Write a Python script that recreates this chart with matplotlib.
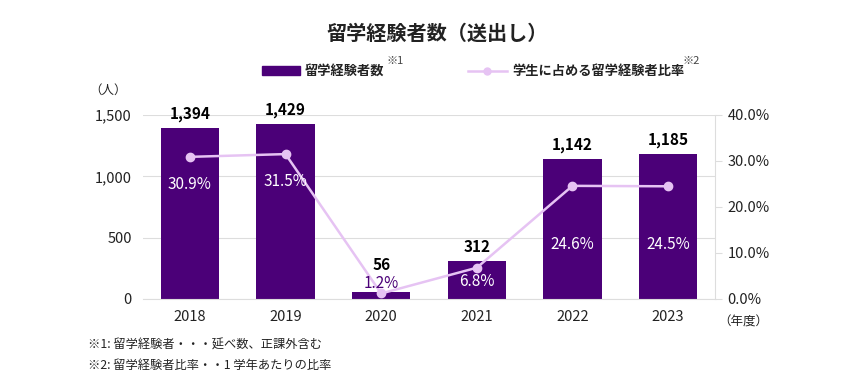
import matplotlib
matplotlib.use("Agg")
import matplotlib.pyplot as plt
from matplotlib.lines import Line2D
from matplotlib.patches import Rectangle

plt.rcParams['font.family'] = ['Noto Sans CJK JP', 'DejaVu Sans']

years = ['2018', '2019', '2020', '2021', '2022', '2023']
counts = [1394, 1429, 56, 312, 1142, 1185]
ratios = [30.9, 31.5, 1.2, 6.8, 24.6, 24.5]
left_ticks = [0, 500, 1000, 1500]
right_ticks = [0, 10, 20, 30, 40]

BAR = '#4b0078'
LINE = '#e6c3f3'
W, H = 850, 382

fig = plt.figure(figsize=(8.5, 3.82), dpi=100)
ax = fig.add_axes([143 / W, 1 - 299 / H, (715 - 143) / W, (299 - 115) / H])
ax2 = ax.twinx()

x = list(range(len(years)))
ax.bar(x, counts, width=0.61, color=BAR, zorder=2)
ax.set_xlim(-0.49, len(years) - 0.51)
ax.set_ylim(0, 1500)
ax.set_yticks(left_ticks)
ax.set_yticklabels([f'{v:,}' for v in left_ticks], fontsize=10.5, color='#222222')
ax.set_xticks(x)
ax.set_xticklabels(years, fontsize=10.5, color='#222222')
ax.tick_params(axis='both', length=0, pad=8)
ax.grid(axis='y', color='#dddddd', linewidth=0.8, zorder=0)
for s in ['top', 'right', 'left']:
    ax.spines[s].set_visible(False)
ax.spines['bottom'].set_color('#dddddd')

ax2.plot(x, ratios, color=LINE, linewidth=1.8, marker='o', markersize=6, zorder=3)
ax2.set_ylim(0, 40)
ax2.set_yticks(right_ticks)
ax2.set_yticklabels([f'{v:.1f}%' for v in right_ticks], fontsize=10.5, color='#222222')
ax2.tick_params(axis='y', length=5, color='#dddddd', pad=4)
for s in ['top', 'left', 'bottom']:
    ax2.spines[s].set_visible(False)
ax2.spines['right'].set_color('#dddddd')

count_offsets = [4, 4, 14, 4, 4, 4]
for i, c in enumerate(counts):
    ax.annotate(f'{c:,}', (i, c), xytext=(0, count_offsets[i]), textcoords='offset points',
                ha='center', va='bottom', fontsize=11, fontweight='bold', color='black')

offsets = [-20, -20, 7.5, -10, -42, -42]
for i, r in enumerate(ratios):
    col = BAR if i == 2 else 'white'
    ax2.annotate(f'{r:.1f}%', (i, r), xytext=(0, offsets[i]), textcoords='offset points',
                 ha='center', va='center', fontsize=11, color=col, zorder=5)

fig.text(437 / W, 1 - 33 / H, '留学経験者数（送出し）', ha='center', va='center',
         fontsize=14.5, fontweight='bold', color='#222222')

# legend
fig.patches.append(Rectangle((262 / W, 1 - 75 / H), 38 / W, 9 / H, color=BAR,
                             transform=fig.transFigure, figure=fig))
fig.text(305 / W, 1 - 71 / H, '留学経験者数', ha='left', va='center', fontsize=9.5,
         fontweight='bold', color='#222222')
fig.text(386 / W, 1 - 61 / H, '※1', ha='left', va='center', fontsize=8, color='#444444')
fig.lines.append(Line2D([468 / W, 507 / W], [1 - 71 / H, 1 - 71 / H], color=LINE,
                        linewidth=1.8, transform=fig.transFigure))
fig.lines.append(Line2D([487.5 / W], [1 - 71 / H], color=LINE, marker='o', markersize=5,
                        transform=fig.transFigure))
fig.text(512 / W, 1 - 71 / H, '学生に占める留学経験者比率', ha='left', va='center', fontsize=9.5,
         fontweight='bold', color='#222222')
fig.text(682 / W, 1 - 61 / H, '※2', ha='left', va='center', fontsize=8, color='#444444')

fig.text(108 / W, 1 - 90 / H, '（人）', ha='center', va='center', fontsize=9, color='#222222')
fig.text(718 / W, 1 - 322 / H, '（年度）', ha='left', va='center', fontsize=9, color='#222222')

fig.text(88 / W, 1 - 345 / H, '※1: 留学経験者・・・延べ数、正課外含む', ha='left', va='center',
         fontsize=8.8, color='#222222')
fig.text(88 / W, 1 - 365 / H, '※2: 留学経験者比率・・1 学年あたりの比率', ha='left', va='center',
         fontsize=8.8, color='#222222')

fig.savefig('out.png', dpi=100)
